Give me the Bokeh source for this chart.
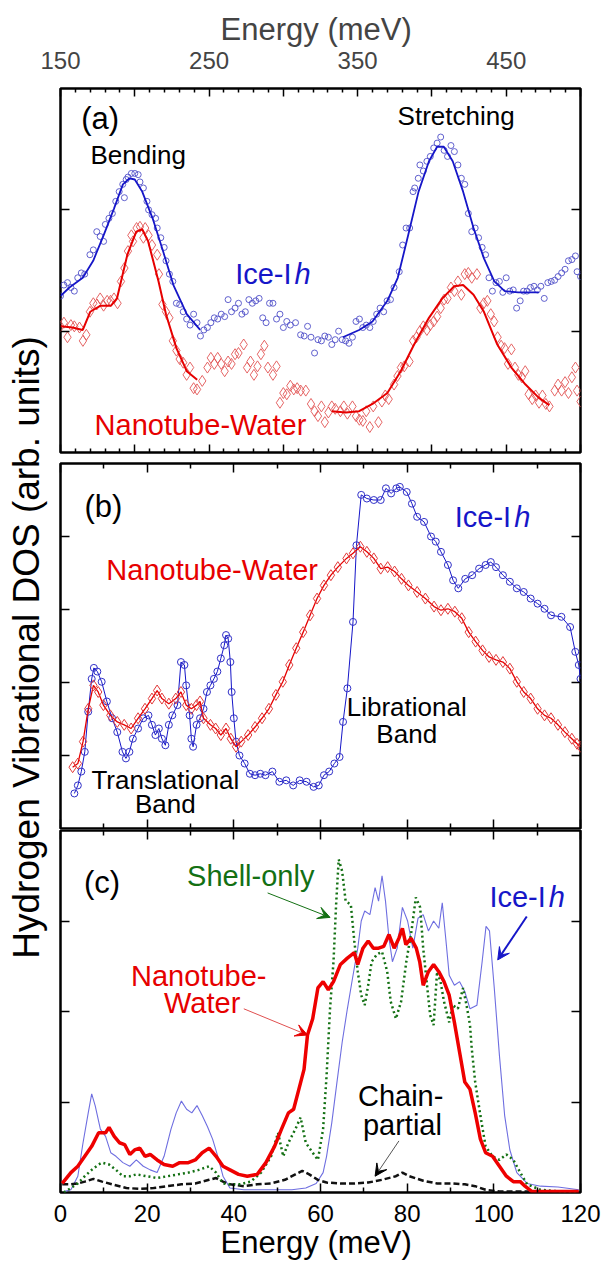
import numpy as np
from bokeh.plotting import figure
from bokeh.models import Range1d, LinearAxis, FixedTicker, Arrow, VeeHead, CustomJSTickFormatter
from bokeh.layouts import row, column
from bokeh.embed import file_html
from bokeh.resources import INLINE
from bokeh.core.properties import value

# ---------------- data: panel (a) (high-energy, 150-500 meV) ----------------
a_ice_fit1_e = [150, 156, 165, 172, 179, 186, 192, 196.5, 200, 205, 212, 219, 226, 235, 244]
a_ice_fit1_y = [1.29, 1.36, 1.44, 1.58, 1.79, 2.01, 2.21, 2.26, 2.25, 2.15, 1.93, 1.66, 1.38, 1.14, 1.01]
a_ice_fit2_e = [340, 351, 360, 370, 377, 384, 391, 398, 403.5, 408, 414, 421, 428, 435, 442, 449, 458, 472]
a_ice_fit2_y = [0.95, 1.01, 1.08, 1.25, 1.44, 1.79, 2.15, 2.40, 2.52, 2.52, 2.40, 2.15, 1.85, 1.60, 1.41, 1.33, 1.32, 1.32]
a_nt_fit1_e = [150, 158, 165, 170, 177, 184, 188, 195, 201, 205, 209, 216, 221, 228, 235, 242]
a_nt_fit1_y = [1.04, 1.03, 1.01, 1.16, 1.21, 1.21, 1.27, 1.63, 1.82, 1.84, 1.74, 1.41, 1.14, 0.86, 0.67, 0.60]
a_nt_fit2_e = [332.6, 342, 351, 360, 370, 379, 388, 398, 407, 415, 421, 428, 435, 444, 453.5, 463, 472, 479]
a_nt_fit2_y = [0.34, 0.33, 0.34, 0.40, 0.49, 0.67, 0.89, 1.11, 1.27, 1.37, 1.38, 1.30, 1.16, 0.89, 0.70, 0.56, 0.45, 0.39]

a_ice_pts_e = [150, 152.3, 154.7, 157, 159.3, 161.6, 164, 166.3, 169.8, 172.1, 174.4, 176.7, 179, 180.2, 182.6,
               184.9, 187.2, 189.5, 191.9, 193, 194.2, 195.4, 197.7, 200, 202.3, 203.5, 205.8, 208.2, 209.3,
               211.6, 214, 215.1, 217.5, 219.8, 221, 223.3, 225.6, 228, 230.2, 232.6, 234.9, 237.2, 239.6,
               241.9, 244.2, 246.5, 248.9, 251.2, 253.5, 255.8, 258.2, 260.5, 262.8, 265.1, 267.5, 269.8,
               272.1, 274.4, 276.8, 279.1, 281.4, 283.7, 286.1, 288.4, 290.7, 293, 295.4, 297.7, 300, 302.3,
               304.7, 308.2, 311.6, 314, 316.3, 318.6, 321, 323.3, 325.6, 327.9, 330.3, 332.6, 334.9, 337.2,
               339.6, 341.9, 344.2, 346.5, 348.9, 351.2, 353.5, 355.8, 358.2, 360.5, 362.8, 365.1, 367.5,
               369.8, 372.1, 374.5, 378, 380.3, 382.6, 385, 387.3, 388.4, 390.8, 391.9, 394.2, 396.6, 398.9,
               401.2, 403.5, 405.9, 408.2, 410.5, 412.8, 415.1, 417.5, 419.8, 422.1, 424.5, 426.8, 429.1,
               431.4, 433.8, 436.1, 438.4, 440.7, 443.1, 445.4, 447.7, 450, 452.4, 454.7, 457, 459.4, 461.7,
               464, 466.3, 468.7, 471, 473.3, 475.6, 478, 480.3, 482.6, 484.9, 487.3, 489.6, 491.9, 494.2,
               496.6, 497.7, 500]
a_ice_pts_y = [1.29, 1.38, 1.40, 1.36, 1.33, 1.44, 1.48, 1.47, 1.63, 1.67, 1.82, 1.78, 1.74, 1.88, 1.93,
               1.97, 2.07, 2.15, 2.21, 2.10, 2.25, 2.27, 2.30, 2.30, 2.29, 2.23, 2.18, 2.07, 2.00,
               1.96, 1.93, 1.85, 1.77, 1.69, 1.58, 1.47, 1.41, 1.23, 1.22, 1.16, 1.10, 1.05, 1.14,
               1.07, 0.96, 1.01, 1.03, 1.07, 1.11, 1.10, 1.14, 1.12, 1.26, 1.16, 1.19, 1.23,
               1.14, 1.16, 1.26, 1.23, 1.25, 1.27, 1.11, 1.07, 1.23, 1.23, 1.10, 1.14, 1.03, 1.08,
               1.05, 1.07, 0.97, 0.96, 1.04, 0.95, 0.82, 0.93, 0.92, 0.96, 0.95, 0.89, 0.93, 1.00,
               0.93, 0.92, 0.90, 0.95, 1.08, 1.10, 1.03, 1.05, 1.03, 1.08, 1.14, 1.19, 1.16,
               1.25, 1.26, 1.36, 1.49, 1.71, 1.85, 1.85, 2.15, 2.18, 2.26, 2.37, 2.32, 2.40, 2.44,
               2.51, 2.55, 2.60, 2.49, 2.44, 2.53, 2.48, 2.37, 2.26, 2.21, 1.97, 1.82, 1.85,
               1.77, 1.69, 1.63, 1.44, 1.33, 1.40, 1.41, 1.32, 1.44, 1.33, 1.34, 1.19, 1.25, 1.33,
               1.33, 1.36, 1.37, 1.34, 1.37, 1.27, 1.40, 1.41, 1.42, 1.45, 1.48, 1.51, 1.58, 1.59,
               1.62, 1.49, 1.45]

a_nt_pts_e = [150, 152.3, 154.7, 157, 159.3, 162.8, 165.1, 167.4, 169.8, 172.1, 174.4, 176.7, 179, 181.4,
              183.7, 186, 188.4, 190.7, 193, 195.4, 197.7, 198.8, 201.2, 203.5, 205.8, 207, 209.3, 211.6,
              215.1, 216.3, 218.6, 221, 223.3, 225.6, 228, 230.2, 232.6, 234.9, 237.2, 239.6, 241.9, 245.4,
              248.9, 251.2, 253.5, 255.8, 258.2, 260.5, 262.8, 265.1, 267.5, 269.8, 273.3, 275.6, 277.9,
              280.2, 282.6, 284.9, 287.2, 289.6, 293, 295.4, 297.7, 300, 302.3, 304.7, 307, 309.3, 311.7,
              315.1, 318.6, 321, 323.3, 325.6, 327.9, 330.3, 332.6, 334.9, 338.4, 340.7, 343.1, 346.5,
              348.9, 351.2, 353.5, 355.8, 358.2, 360.5, 364, 366.3, 368.6, 370.9, 374.5, 376.8, 379.1,
              381.4, 384.9, 387.3, 389.6, 391.9, 394.2, 396.6, 398.9, 401.2, 403.5, 405.9, 408.2, 410.5,
              412.8, 415.1, 417.5, 419.8, 422.1, 424.5, 426.8, 430.3, 432.6, 434.9, 437.3, 439.6, 441.9,
              444.2, 446.6, 448.9, 451.2, 453.5, 455.9, 458.2, 460.5, 462.8, 465.1, 467.5, 469.8, 472.1,
              474.4, 476.7, 479.1, 482.6, 484.9, 487.3, 489.6, 491.9, 494.2, 496.6, 497.7, 500]
a_nt_pts_y = [1.04, 1.07, 0.95, 1.05, 1.04, 1.03, 0.92, 0.97, 1.16, 1.23, 1.22, 1.27, 1.21, 1.25,
              1.25, 1.27, 1.23, 1.41, 1.52, 1.66, 1.79, 1.74, 1.85, 1.86, 1.77, 1.85, 1.79, 1.71,
              1.63, 1.47, 1.22, 1.16, 1.11, 0.92, 0.84, 0.77, 0.74, 0.64, 0.70, 0.53, 0.52, 0.59,
              0.70, 0.78, 0.73, 0.78, 0.73, 0.67, 0.75, 0.73, 0.81, 0.82, 0.89, 0.70, 0.75,
              0.64, 0.71, 0.81, 0.88, 0.70, 0.64, 0.71, 0.41, 0.49, 0.48, 0.55, 0.52, 0.53, 0.51,
              0.51, 0.40, 0.34, 0.30, 0.38, 0.25, 0.33, 0.38, 0.36, 0.34, 0.38, 0.32, 0.38,
              0.30, 0.27, 0.26, 0.34, 0.21, 0.38, 0.25, 0.42, 0.47, 0.44, 0.56, 0.63, 0.70,
              0.71, 0.75, 0.92, 0.95, 1.00, 1.04, 1.01, 1.05, 1.08, 1.12, 1.19, 1.26, 1.27,
              1.36, 1.33, 1.41, 1.30, 1.47, 1.48, 1.44, 1.47, 1.19, 1.23, 1.25, 1.14, 1.08,
              0.95, 0.88, 0.86, 0.73, 0.85, 0.70, 0.64, 0.62, 0.67, 0.48, 0.44, 0.47, 0.41,
              0.47, 0.40, 0.38, 0.51, 0.56, 0.51, 0.58, 0.49, 0.62, 0.70, 0.51, 0.42]

# ---------------- data: panel (b) (low-energy, 0-120 meV) ----------------
b_ice_e = [3.2, 4.0, 4.8, 5.6, 6.4, 7.2, 7.7, 8.5, 9.5, 10.7, 11.9, 13.1, 14.3, 15.1, 15.9, 16.7, 17.9,
           19.1, 20.3, 21.1, 21.9, 22.7, 23.4, 24.2, 25.0, 25.8, 27.0, 27.8, 28.6, 29.0, 29.8, 30.2, 30.6,
           31.4, 32.2, 33.0, 33.8, 34.6, 35.4, 36.2, 37.0, 37.8, 38.2, 38.7, 39.2, 39.5, 40.0, 40.5, 41.3,
           42.5, 43.7, 44.9, 46.1, 47.3, 48.9, 50.5, 52.1, 53.7, 55.2, 56.8, 58.4, 59.6, 60.8, 62.0, 63.2,
           64.4, 65.2, 66.2, 67.5, 68.3, 69.4, 70.7, 72.3, 73.9, 75.1, 76.3, 77.5, 78.3, 79.9, 81.1, 82.3,
           83.9, 85.5, 86.6, 87.8, 89.4, 90.6, 91.8, 93.4, 95.0, 96.6, 98.1, 99.3, 100.5, 102.1, 103.7,
           105.3, 106.9, 108.5, 110.1, 111.7, 113.2, 115.6, 117.6, 118.8, 119.6, 120.0]
b_ice_y = [0.48, 0.59, 0.78, 1.05, 1.60, 2.05, 2.20, 2.15, 2.01, 1.74, 1.51, 1.32, 1.05, 0.96, 1.05, 1.23, 1.37,
           1.51, 1.55, 1.42, 1.28, 1.37, 1.23, 1.14, 1.42, 1.55, 1.69, 2.28, 2.24, 1.96, 1.55, 1.23, 1.12,
           1.42, 1.51, 1.64, 1.87, 1.96, 2.05, 2.15, 2.33, 2.51, 2.65, 2.60, 2.28, 1.87, 1.51, 1.19, 1.00,
           0.89, 0.75, 0.73, 0.75, 0.73, 0.78, 0.64, 0.66, 0.59, 0.66, 0.64, 0.57, 0.59, 0.73, 0.78, 0.89,
           0.98, 1.46, 1.92, 2.83, 3.88, 4.57, 4.52, 4.50, 4.50, 4.66, 4.59, 4.66, 4.68, 4.61, 4.45, 4.27,
           4.20, 4.00, 3.93, 3.79, 3.61, 3.40, 3.29, 3.42, 3.47, 3.56, 3.61, 3.65, 3.58, 3.47, 3.38,
           3.29, 3.24, 3.15, 3.08, 3.01, 2.92, 2.90, 2.76, 2.42, 2.24, 2.05]
b_nt_e = [2.8, 4.0, 5.2, 6.4, 7.6, 8.7, 9.9, 11.5, 13.1, 14.7, 16.3, 17.9, 19.5, 21.1, 22.3, 23.4, 25.0,
          26.6, 27.8, 29.0, 30.2, 31.4, 32.2, 33.0, 34.6, 35.8, 37.0, 38.2, 39.3, 40.5, 41.7, 43.3, 44.9,
          46.5, 48.1, 49.7, 51.3, 52.8, 54.4, 56.0, 57.6, 59.2, 60.8, 62.4, 64.0, 66.0, 67.5, 69.2, 70.7,
          72.3, 73.9, 75.5, 77.1, 78.7, 80.3, 82.3, 84.2, 86.2, 87.8, 89.4, 91.0, 92.6, 94.2, 95.8, 97.4,
          98.9, 100.5, 102.1, 103.7, 105.3, 106.9, 108.5, 110.1, 111.7, 113.2, 114.8, 116.4, 118.0,
          119.2, 120.0]
b_nt_y = [0.84, 0.89, 1.19, 1.64, 1.96, 1.87, 1.69, 1.55, 1.46, 1.42, 1.37, 1.51, 1.64, 1.78, 1.89, 1.78, 1.71,
          1.78, 1.87, 1.69, 1.64, 1.69, 1.74, 1.51, 1.42, 1.37, 1.28, 1.37, 1.23, 1.12, 1.19, 1.28, 1.39,
          1.51, 1.64, 1.83, 2.01, 2.24, 2.47, 2.69, 2.92, 3.15, 3.33, 3.47, 3.58, 3.70, 3.77, 3.86, 3.79,
          3.70, 3.56, 3.58, 3.52, 3.42, 3.33, 3.24, 3.15, 3.04, 2.99, 3.01, 2.97, 2.88, 2.69, 2.56, 2.44,
          2.35, 2.31, 2.28, 2.19, 2.01, 1.87, 1.78, 1.64, 1.55, 1.51, 1.42, 1.32, 1.23,
          1.16, 1.12]

# ---------------- data: panel (c) (0-120 meV) ----------------
c_ice_e = [0.8, 2.4, 4.0, 5.2, 6.4, 7.2, 8.0, 9.2, 10.4, 11.6, 12.8, 14.4, 16.0, 17.5, 19.1, 20.7, 22.3,
           23.9, 25.5, 26.7, 27.9, 29.1, 30.3, 31.5, 32.7, 33.9, 35.1, 36.3, 37.5, 39.1, 42.3, 47.0, 53.4,
           56.6, 59.0, 60.6, 61.4, 62.6, 63.8, 65.0, 66.2, 67.4, 68.6, 69.4, 70.2, 71.4, 72.6, 73.4, 74.2,
           75.0, 75.8, 76.6, 77.7, 78.9, 80.1, 81.3, 82.5, 83.7, 84.9, 86.1, 87.3, 88.1, 88.9, 89.7, 90.9,
           92.1, 93.3, 94.5, 96.1, 97.3, 98.2, 99.0, 100.1, 101.3, 102.5, 103.7, 105.3, 107.7, 110.8,
           114.8, 119.6]
c_ice_y = [0.01, 0.03, 0.18, 0.55, 0.88, 1.09, 0.96, 0.70, 0.62, 0.44, 0.40, 0.33, 0.29, 0.36, 0.29, 0.25, 0.22,
           0.40, 0.70, 0.88, 1.01, 0.92, 0.88, 0.96, 0.85, 0.73, 0.59, 0.40, 0.18, 0.05, 0.03, 0.03, 0.03,
           0.05, 0.10, 0.22, 0.40, 0.77, 1.22, 1.66, 2.03, 2.37, 2.70, 3.00, 3.11, 3.07, 3.37, 3.22, 3.50,
           3.22, 2.81, 2.55, 2.70, 3.15, 3.00, 2.70, 3.03, 3.07, 2.89, 3.00, 2.92, 3.20, 2.81, 2.40, 2.29,
           2.33, 2.22, 2.03, 2.07, 2.55, 2.94, 2.89, 2.26, 1.51, 0.85, 0.47, 0.22, 0.10, 0.07,
           0.06, 0.03]
c_nt_e = [0.4, 2.4, 4.0, 5.6, 7.2, 8.8, 10.4, 11.2, 12.4, 13.6, 14.8, 16.0, 17.1, 18.3, 19.5, 20.7, 22.3,
          23.9, 25.9, 27.5, 29.5, 31.1, 32.7, 34.3, 35.9, 37.5, 39.1, 41.1, 43.1, 45.4, 47.4, 49.4, 51.0,
          52.6, 53.8, 55.0, 56.2, 57.0, 58.2, 59.4, 60.6, 61.8, 63.0, 64.6, 66.2, 67.8, 68.6, 69.8, 71.0,
          72.2, 73.4, 74.6, 75.8, 77.0, 78.1, 78.9, 79.7, 80.9, 82.1, 82.9, 83.7, 84.9, 86.1, 87.3, 88.5,
          89.7, 90.9, 92.1, 93.3, 94.5, 95.7, 96.9, 98.1, 99.7, 101.3, 102.9, 104.5, 106.1, 107.2, 108.8,
          119.6]
c_nt_y = [0.10, 0.22, 0.29, 0.40, 0.51, 0.66, 0.66, 0.72, 0.62, 0.55, 0.53, 0.42, 0.47, 0.49, 0.40, 0.42, 0.36,
          0.31, 0.29, 0.33, 0.33, 0.36, 0.44, 0.49, 0.40, 0.29, 0.25, 0.20, 0.18, 0.20, 0.33, 0.51, 0.70,
          0.88, 0.92, 1.14, 1.36, 1.74, 1.92, 2.26, 2.33, 2.24, 2.33, 2.52, 2.59, 2.65, 2.52, 2.70, 2.78,
          2.70, 2.70, 2.72, 2.85, 2.70, 2.81, 2.92, 2.74, 2.81, 2.70, 2.55, 2.29, 2.44, 2.52, 2.44, 2.33,
          2.18, 1.88, 1.55, 1.22, 1.14, 0.88, 0.59, 0.44, 0.40, 0.29, 0.18, 0.12, 0.12, 0.07, 0.01,
          0.01]
c_shell_e = [0.8, 2.4, 4.0, 5.6, 7.2, 8.8, 9.6, 11.2, 12.8, 14.4, 16.0, 17.5, 19.9, 22.3, 24.7, 27.1, 29.5,
             31.9, 34.3, 35.9, 37.5, 39.1, 41.5, 43.9, 46.3, 48.6, 50.2, 51.4, 52.6, 54.2, 55.4, 56.6, 58.2,
             59.4, 60.6, 61.4, 62.2, 63.0, 63.6, 64.2, 65.0, 65.8, 67.0, 67.8, 68.6, 69.4, 70.2, 71.0, 71.8,
             73.0, 74.2, 75.4, 76.2, 77.4, 78.6, 79.8, 81.0, 82.0, 83.0, 83.7, 84.5, 85.3, 86.1, 86.9, 87.7,
             88.5, 89.7, 90.5, 91.7, 92.9, 93.7, 94.5, 94.9, 95.7, 96.9, 98.1, 99.7, 101.3, 102.9, 104.5,
             106.1, 107.7, 110.8, 115.6, 119.6]
c_shell_y = [0.0, 0.05, 0.10, 0.18, 0.25, 0.31, 0.33, 0.31, 0.25, 0.18, 0.18, 0.20, 0.18, 0.16, 0.18, 0.20, 0.22,
             0.25, 0.29, 0.22, 0.10, 0.09, 0.09, 0.12, 0.22, 0.40, 0.66, 0.40, 0.55, 0.70, 0.83, 0.55, 0.44,
             0.36, 0.70, 1.29, 2.03, 2.55, 3.18, 3.68, 3.55, 3.22, 3.18, 2.78, 2.44, 2.18, 2.07, 2.29, 2.55,
             2.63, 2.66, 2.44, 2.11, 1.92, 2.11, 2.55, 2.89, 3.26, 3.15, 2.70, 2.33, 1.96, 1.85, 2.44, 2.33,
             2.11, 1.88, 2.07, 2.03, 2.26, 2.07, 1.85, 1.59, 1.22, 0.85, 0.51, 0.40, 0.36, 0.42, 0.36,
             0.22, 0.09, 0.03, 0.01, 0.01]
c_chain_e = [0.4, 2.4, 4.0, 5.6, 7.6, 9.6, 12.0, 15.2, 18.3, 21.5, 24.7, 27.9, 31.1, 34.3, 35.9, 37.5, 39.1,
             42.3, 45.4, 48.6, 51.8, 54.2, 55.8, 57.4, 59.4, 61.4, 64.6, 67.8, 71.0, 74.2, 77.4, 78.9, 80.5,
             83.7, 86.9, 90.1, 93.3, 95.7, 98.1, 101.3, 105.3, 110.8, 119.6]
c_chain_y = [0.09, 0.09, 0.10, 0.12, 0.15, 0.12, 0.09, 0.05, 0.04, 0.05, 0.07, 0.09, 0.10, 0.14, 0.16, 0.12, 0.09,
             0.07, 0.09, 0.10, 0.14, 0.20, 0.24, 0.20, 0.14, 0.11, 0.10, 0.10, 0.11, 0.14, 0.18, 0.22, 0.18,
             0.13, 0.10, 0.10, 0.09, 0.07, 0.03, 0.01, 0.01, 0.01, 0.01]

# tick values
top_ticks = [150, 200, 250, 300, 350, 400, 450, 500]
top_minor = [v for v in range(150, 501, 10) if v % 50 != 0]
top_labels = {150: "150", 200: "", 250: "250", 300: "", 350: "350", 400: "", 450: "450", 500: ""}
low_ticks = [0, 20, 40, 60, 80, 100, 120]
low_minor = [10, 30, 50, 70, 90, 110]
a_yticks = [1, 2]
b_yticks = [1, 2, 3, 4]
c_yticks = [1, 2, 3]

# ---------------- styling ----------------
FONT = "Liberation Sans"
BLUE = "#1616c8"
RED = "#e60000"
GREEN = "#137013"
BLANK = CustomJSTickFormatter(code="return ''")

LAB_W = 48
FIG_W = 601 - LAB_W
ML, MR = 12, 21
FRAME_W = FIG_W - ML - MR


def hidden_axis(ticks, minor, tin, tmin):
    ax = LinearAxis(ticker=FixedTicker(ticks=ticks, minor_ticks=minor), formatter=BLANK)
    ax.axis_line_color = None
    ax.major_tick_in = tin
    ax.major_tick_out = 0
    ax.minor_tick_in = tmin
    ax.minor_tick_out = 0
    ax.major_tick_line_width = 1.5
    ax.minor_tick_line_width = 1.5
    ax.major_label_standoff = 0
    ax.major_label_text_font_size = "0px"
    return ax


def panel(xr, yr, height, mbt, mbb, xt, xm, yt, tin, tmin, bottom_labels=False):
    p = figure(width=FIG_W, height=height, x_range=Range1d(*xr), y_range=Range1d(*yr),
               x_axis_location=None, y_axis_location=None,
               min_border_left=ML, min_border_right=MR, min_border_top=mbt, min_border_bottom=mbb,
               output_backend="svg", toolbar_location=None)
    p.grid.visible = False
    p.outline_line_color = "black"
    p.outline_line_width = 2.5
    p.outline_line_alpha = 1.0
    p.add_layout(hidden_axis(xt, xm, tin, tmin), "above")
    if bottom_labels:
        ax = LinearAxis(ticker=FixedTicker(ticks=xt, minor_ticks=xm))
        ax.axis_line_color = None
        ax.major_tick_in = tin
        ax.major_tick_out = 0
        ax.minor_tick_in = tmin
        ax.minor_tick_out = 0
        ax.major_tick_line_width = 1.5
        ax.minor_tick_line_width = 1.5
        ax.major_label_text_font = FONT
        ax.major_label_text_font_size = "24px"
        ax.major_label_text_color = "black"
        ax.major_label_standoff = 12
        ax.axis_label = "Energy  (meV)"
        ax.axis_label_text_font = FONT
        ax.axis_label_text_font_size = "31px"
        ax.axis_label_text_font_style = "normal"
        ax.axis_label_text_color = "black"
        ax.axis_label_standoff = 0
        p.add_layout(ax, "below")
    else:
        p.add_layout(hidden_axis(xt, xm, tin, tmin), "below")
    p.add_layout(hidden_axis(yt, [], 9, 0), "left")
    p.add_layout(hidden_axis(yt, [], 9, 0), "right")
    return p


def txt(p, x, y, s, color="black", size="29px", style="normal", align="center"):
    p.text(x=[x], y=[y], text=[s], text_font=value(FONT), text_font_size=size, text_color=color,
           text_align=align, text_baseline="middle", text_font_style=style)


def ice_label(p, x, y):
    p.text(x=[x], y=[y], text=["Ice-I"], text_font=value(FONT), text_font_size="29px", text_color=BLUE,
           text_align="right", text_baseline="middle")
    p.text(x=[x], y=[y], text=["h"], text_font=value(FONT), text_font_size="29px", text_color=BLUE,
           text_align="left", text_baseline="middle", text_font_style="italic", x_offset=3)


# ---------------- top axis (Energy 150-500) ----------------
TOP_H = 87
top = figure(width=601, height=TOP_H, x_range=Range1d(150, 500), y_range=Range1d(0, 1),
             x_axis_location=None, y_axis_location=None,
             min_border_left=LAB_W + ML, min_border_right=MR, min_border_top=TOP_H - 1,
             min_border_bottom=0, output_backend="svg", toolbar_location=None)
top.grid.visible = False
top.outline_line_color = None
tax = LinearAxis(ticker=FixedTicker(ticks=top_ticks, minor_ticks=[]), major_label_overrides=top_labels)
tax.axis_line_color = None
tax.major_tick_in = 0
tax.major_tick_out = 0
tax.major_label_text_font = FONT
tax.major_label_text_font_size = "24px"
tax.major_label_standoff = 18
tax.axis_label = "Energy  (meV)"
tax.axis_label_text_font = FONT
tax.axis_label_text_font_size = "31px"
tax.axis_label_text_font_style = "normal"
tax.axis_label_standoff = 2
top.add_layout(tax, "above")

# ---------------- panel (a) ----------------
HA, HB, HC = 370, 372, 435
pa = panel((150, 500), (0, 3), HA, 1, 5, top_ticks, top_minor, a_yticks, 8, 4)
pa.scatter(a_ice_pts_e, a_ice_pts_y, marker="circle", size=6, fill_color=None, line_color="#5050c8",
           line_width=0.9)
pa.scatter(a_nt_pts_e, a_nt_pts_y, marker="diamond", size=11, fill_color=None, line_color="#e25555",
           line_width=0.9)
pa.line(a_ice_fit1_e, a_ice_fit1_y, line_color=BLUE, line_width=1.8)
pa.line(a_ice_fit2_e, a_ice_fit2_y, line_color=BLUE, line_width=1.8)
pa.line(a_nt_fit1_e, a_nt_fit1_y, line_color=RED, line_width=2)
pa.line(a_nt_fit2_e, a_nt_fit2_y, line_color=RED, line_width=2)
txt(pa, 176.7, 2.75, "(a)", size="31px")
txt(pa, 202.3, 2.45, "Bending", size="26px")
txt(pa, 416.3, 2.77, "Stretching", size="26px")
ice_label(pa, 305.5, 1.47)
txt(pa, 244.2, 0.23, "Nanotube-Water", color=RED)

# ---------------- panel (b) ----------------
pb = panel((0, 120), (0, 5), HB, 6, 1, low_ticks, low_minor, b_yticks, 9, 5)
pb.line(b_ice_e, b_ice_y, line_color=BLUE, line_width=1)
pb.scatter(b_ice_e, b_ice_y, marker="circle", size=7, fill_color=None, line_color="#3030c8", line_width=1)
pb.line(b_nt_e, b_nt_y, line_color=RED, line_width=1.3)
pb.scatter(b_nt_e, b_nt_y, marker="diamond", size=11, fill_color=None, line_color="#e23a3a", line_width=1)
txt(pb, 9.9, 4.41, "(b)", size="31px")
ice_label(pb, 104.0, 4.27)
txt(pb, 35.0, 3.54, "Nanotube-Water", color=RED)
txt(pb, 79.9, 1.67, "Librational", size="26px")
txt(pb, 79.9, 1.30, "Band", size="26px")
txt(pb, 24.2, 0.66, "Translational", size="26px")
txt(pb, 24.2, 0.34, "Band", size="26px")

# ---------------- panel (c) ----------------
pc = panel((0, 120), (0, 4), HC, 1, 72, low_ticks, low_minor, c_yticks, 9, 5, bottom_labels=True)
pc.line(c_ice_e, c_ice_y, line_color="#6e6ee0", line_width=1.1)
pc.line(c_chain_e, c_chain_y, line_color="#111111", line_width=2.5, line_dash="6 3")
pc.line(c_shell_e, c_shell_y, line_color=GREEN, line_width=2.5, line_dash="2 3")
pc.line(c_nt_e, c_nt_y, line_color="#ee0000", line_width=3.5)
txt(pc, 9.6, 3.42, "(c)", size="31px")
txt(pc, 43.9, 3.50, "Shell-only", color=GREEN)
ice_label(pc, 112.0, 3.26)
txt(pc, 31.9, 2.39, "Nanotube-", color=RED)
txt(pc, 32.7, 2.09, "Water", color=RED)
txt(pc, 78.5, 1.07, "Chain-")
txt(pc, 78.9, 0.75, "partial")
pc.add_layout(Arrow(end=VeeHead(size=12, fill_color=GREEN, line_color=GREEN), line_color=GREEN, line_width=1,
                    x_start=47.8, y_start=3.31, x_end=62.2, y_end=3.04))
pc.add_layout(Arrow(end=VeeHead(size=12, fill_color=BLUE, line_color=BLUE), line_color=BLUE, line_width=2,
                    x_start=107.6, y_start=3.05, x_end=100.9, y_end=2.57))
pc.add_layout(Arrow(end=VeeHead(size=12, fill_color=RED, line_color=RED), line_color="#e05050", line_width=1,
                    x_start=42.3, y_start=2.03, x_end=57.0, y_end=1.74))
pc.add_layout(Arrow(end=VeeHead(size=12, fill_color="black", line_color="black"), line_color="#555555",
                    line_width=1, x_start=78.1, y_start=0.57, x_end=72.6, y_end=0.18))

# ---------------- y label column ----------------
LAB_H = HA + HB + HC
lab = figure(width=LAB_W, height=LAB_H, x_range=Range1d(0, 1), y_range=Range1d(0, 1),
             x_axis_location=None, y_axis_location=None, min_border=0,
             output_backend="svg", toolbar_location=None)
lab.grid.visible = False
lab.outline_line_color = None
lab.text(x=[0.54], y=[1 - (647 - TOP_H) / LAB_H], text=["Hydrogen Vibrational DOS (arb. units)"],
         angle=np.pi / 2, text_font=value(FONT), text_font_size="37px", text_color="black",
         text_align="center", text_baseline="middle")

layout = column(top, row(lab, column(pa, pb, pc)))
open("out.html", "w").write(file_html(layout, INLINE))
